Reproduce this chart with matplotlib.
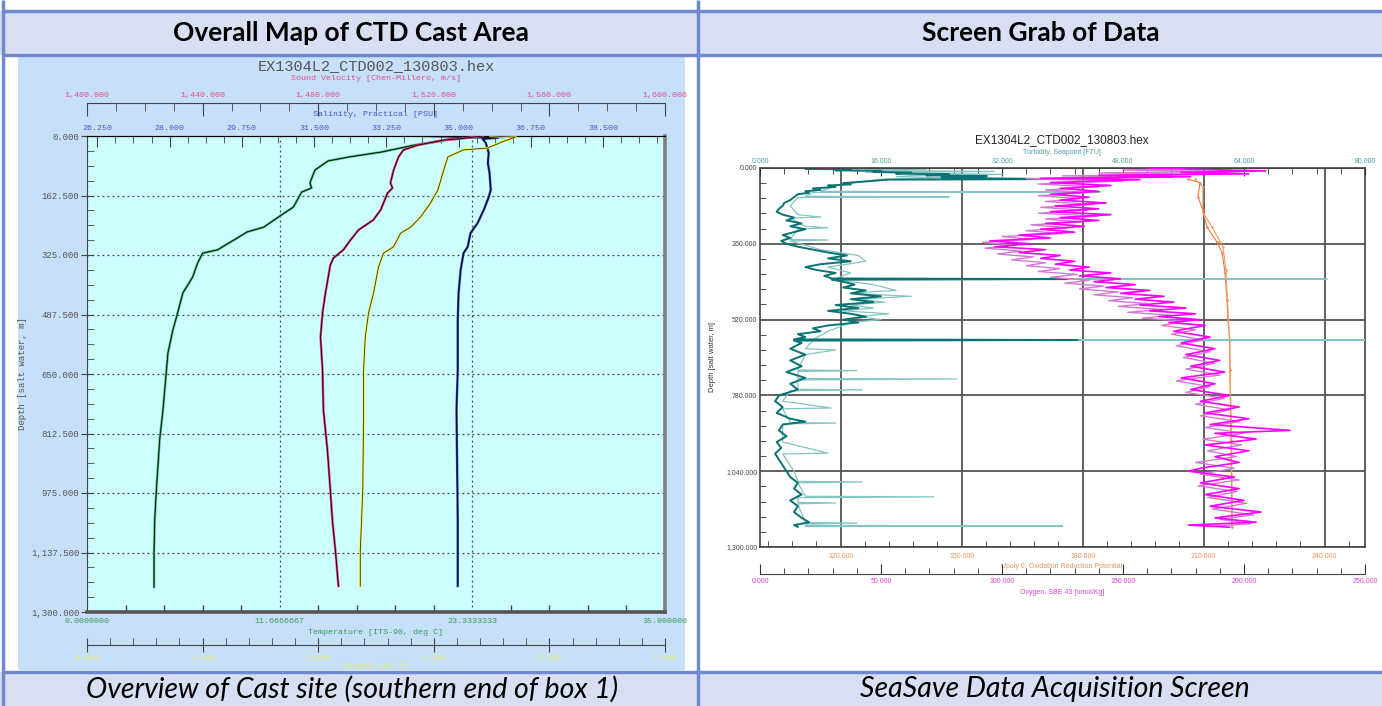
import matplotlib
matplotlib.use("Agg")
import matplotlib.pyplot as plt
from matplotlib.patches import Rectangle
from matplotlib.ticker import MultipleLocator, FixedLocator, FuncFormatter

plt.rcParams["font.family"] = "Liberation Sans"

W, H = 1382, 706
PT = 0.72  # points per pixel at 100 dpi

# ---------------- left panel data (EX1304L2_CTD002, Seaplot view) -------------
temp_depth = [3, 5, 14, 25, 44, 57, 68, 93, 128, 142, 153, 194, 221, 249, 262, 284, 311,
              320, 347, 385, 429, 481, 530, 593, 748, 830, 967, 1049, 1136, 1232]
temp_vals = [25.3, 22.4, 21.4, 19.8, 17.8, 15.9, 14.6, 13.8, 13.5, 13.6, 13.0, 12.5, 11.6,
             10.7, 9.7, 8.9, 7.9, 7.0, 6.7, 6.4, 5.8, 5.5, 5.2, 4.9, 4.6, 4.4, 4.2, 4.1,
             4.06, 4.06]

sv_depth = [0, 8, 11, 25, 38, 57, 93, 128, 142, 156, 202, 229, 257, 284, 311, 333, 352,
            429, 483, 549, 639, 748, 858, 967, 1049, 1136, 1229]
sv_vals = [1536.9, 1528.6, 1523.4, 1514.4, 1509.5, 1507.8, 1506.1, 1505.0, 1505.7, 1504.0,
           1501.6, 1499.1, 1493.9, 1491.2, 1488.7, 1485.3, 1484.2, 1482.5, 1481.5, 1480.8,
           1481.5, 1481.8, 1483.2, 1484.2, 1484.9, 1486.0, 1487.0]

sal_depth = [0, 3, 5, 8, 19, 46, 74, 101, 147, 167, 202, 238, 265, 303, 320, 366, 429, 503,
             639, 748, 1049, 1229]
sal_vals = [34.2, 35.29, 35.95, 35.58, 35.66, 35.73, 35.71, 35.75, 35.78, 35.73, 35.61,
            35.46, 35.29, 35.22, 35.12, 35.05, 35.00, 34.98, 34.98, 34.95, 34.98, 34.98]

oxl_depth = [0, 3, 14, 33, 38, 57, 93, 147, 183, 221, 249, 265, 303, 320, 358, 429, 483,
             549, 639, 748, 967, 1131, 1229]
oxl_vals = [4.89, 5.19, 5.05, 4.85, 4.56, 4.37, 4.32, 4.25, 4.16, 4.04, 3.92, 3.80, 3.71,
            3.59, 3.53, 3.47, 3.41, 3.37, 3.35, 3.35, 3.34, 3.31, 3.31]

sal_ticks = [26.25, 28.0, 29.75, 31.5, 33.25, 35.0, 36.75, 38.5]
temp_ticks = [0, 35 / 3, 70 / 3, 35]
temp_labels = ["0.0000000", "11.6666667", "23.3333333", "35.000000"]

# ---------------- right panel data (Seasave screen) ---------------------------
turb_depth = [0, 3, 5, 8, 10, 13, 16, 19, 22, 25, 28, 32, 35, 38, 40, 44, 48, 52, 56, 60,
              65, 70, 75, 80, 85, 90, 100, 110, 120, 130, 140, 150, 160, 170, 180, 190,
              200, 210, 220, 230, 240, 250, 260, 270, 280, 290, 300, 310, 320, 330, 340,
              350, 360, 370, 379, 381, 383, 390, 400, 410, 420, 430, 440, 450, 460, 470,
              480, 490, 500, 510, 520, 530, 540, 550, 560, 570, 580, 588, 590, 592, 600,
              620, 640, 660, 680, 700, 720, 740, 760, 780, 800, 820, 840, 860, 870, 880,
              900, 920, 940, 960, 980, 1000, 1020, 1040, 1060, 1080, 1100, 1120, 1140,
              1160, 1180, 1200, 1215, 1225, 1231]
turb_vals = [7.7, 6.0, 12, 10, 16, 15, 20, 18, 25, 22, 30, 24, 28, 39, 17, 15, 13, 11, 12,
             9, 10, 7, 8, 6, 6.5, 5, 4.5, 4, 3.2, 3, 2.5, 2.2, 3, 4.5, 3.5, 5.5, 4, 6, 4.5,
             3, 4, 2.8, 3.5, 5, 7, 9, 11.5, 9, 12, 8, 6, 7.5, 10, 8.5, 9.5, 40.6, 9.5, 11,
             12.5, 11, 14, 12, 16, 12, 15, 10, 13, 9, 12, 14, 11, 13, 9, 7, 8, 5, 6, 4.5,
             42, 4.5, 5.5, 4, 6, 4, 5.5, 3.5, 6, 4, 5, 2.5, 2, 3, 2.2, 4, 6, 3, 2.5, 3.5,
             2.2, 2.8, 2, 2.5, 3, 3.5, 4, 5, 4.5, 5.5, 4, 5, 4.5, 5.5, 6.5, 4.5, 5]

turb2_depth = [0, 4, 8, 12, 15, 22, 26, 30, 34, 38, 45, 60, 80, 82, 84, 97, 99, 101, 130,
               160, 168, 172, 200, 205, 210, 245, 247, 250, 280, 300, 320, 340, 360, 379,
               381, 383, 400, 420, 425, 430, 440, 450, 460, 470, 480, 490, 500, 510, 520,
               530, 560, 588, 590, 592, 620, 624, 640, 693, 695, 698, 722, 724, 727, 759,
               761, 764, 800, 823, 826, 873, 875, 878, 940, 978, 981, 1040, 1075, 1077,
               1080, 1126, 1128, 1131, 1147, 1149, 1152, 1216, 1218, 1221, 1226, 1228, 1230]
turb2_vals = [9, 22, 12, 31, 14, 32, 20, 18, 26, 16, 14, 10, 8, 45, 7, 6, 25, 5, 4, 5, 8,
              4, 6, 9, 5, 4, 9, 4, 8, 13, 14, 9, 12, 10, 75, 10, 15, 18, 14.5, 12, 20, 13,
              16.5, 12, 15, 11, 17, 13, 16, 12, 9, 7, 80, 7, 6, 10, 6, 5, 12.8, 5, 5, 26,
              5, 5, 13.5, 4, 3, 9.4, 3, 4, 10, 3, 3, 9, 3, 4.5, 5, 13.5, 5, 6, 23, 5, 5, 10,
              5, 6, 12.8, 6, 6, 40, 6]

orp_a_depth = [38, 51, 99, 144, 202, 254, 292, 360, 453, 521, 590, 693, 933, 1231]
orp_a_vals = [206.1, 209.1, 208.6, 209.8, 210.8, 213.3, 214.6, 215.3, 215.8, 216.0, 216.5,
              216.5, 216.8, 217.0]
orp_b_depth = [38, 65, 154, 202, 254, 271, 350, 453, 590, 933, 1231]
orp_b_vals = [207.9, 209.8, 209.8, 212.1, 214.1, 214.8, 215.5, 215.9, 216.4, 216.9, 217.1]

o2_depth = [0, 5, 10, 15, 20, 25, 30, 35, 40, 50, 60, 70, 80, 90, 100, 110, 120, 130, 140,
            150, 160, 170, 180, 190, 200, 210, 220, 230, 240, 250, 260, 270, 280, 290, 300,
            310, 320, 330, 340, 350, 360, 370, 380, 390, 400, 410, 420, 430, 440, 450, 460,
            470, 480, 490, 500, 510, 520, 530, 540, 560, 580, 600, 620, 640, 660, 680, 700,
            720, 740, 760, 780, 800, 820, 840, 860, 880, 900, 910, 930, 950, 970, 990, 1010,
            1030, 1040, 1060, 1080, 1100, 1120, 1140, 1160, 1180, 1200, 1215, 1225, 1232]
o2_vals = [161, 182, 209, 174, 202, 140, 178, 116, 157, 120, 145, 124, 140, 120, 136, 124,
           143, 122, 140, 120, 145, 124, 140, 118, 134, 116, 130, 107, 120, 95, 112, 97, 118,
           107, 124, 116, 130, 122, 136, 128, 145, 132, 149, 138, 155, 143, 161, 149, 167,
           155, 171, 157, 176, 161, 180, 165, 182, 169, 184, 171, 186, 174, 188, 176, 190,
           178, 192, 174, 188, 178, 194, 182, 198, 184, 202, 186, 219, 188, 205, 184, 202,
           188, 198, 182, 177, 196, 182, 198, 184, 200, 186, 207, 188, 205, 177, 194]

o2b_depth = [2, 7, 12, 17, 22, 27, 32, 37, 45, 55, 65, 75, 85, 95, 105, 115, 125, 135, 145,
             155, 165, 175, 185, 195, 205, 215, 225, 235, 245, 255, 265, 275, 285, 295, 305,
             315, 325, 335, 345, 355, 365, 375, 385, 395, 405, 415, 425, 435, 445, 455, 465,
             475, 485, 495, 505, 515, 525, 540, 555, 570, 590, 610, 630, 650, 670, 690, 710,
             730, 750, 770, 790, 810, 830, 850, 870, 890, 910, 930, 950, 970, 990, 1010,
             1030, 1050, 1070, 1090, 1110, 1130, 1150, 1170, 1190, 1205, 1220, 1230]
o2b_vals = [175, 150, 195, 140, 185, 125, 170, 110, 150, 115, 140, 118, 135, 115, 132, 118,
            138, 116, 135, 115, 140, 118, 133, 112, 128, 110, 125, 100, 112, 92, 104, 93, 108,
            98, 113, 104, 118, 110, 124, 115, 131, 120, 136, 126, 142, 132, 148, 138, 154,
            144, 160, 148, 166, 152, 170, 158, 176, 166, 180, 170, 183, 172, 186, 175, 188,
            176, 190, 172, 186, 176, 192, 180, 194, 182, 198, 184, 200, 183, 199, 185, 197,
            180, 196, 182, 198, 181, 197, 185, 201, 187, 204, 190, 203, 185]


def px_box(x0, y0, x1, y1):
    return [x0 / W, 1 - y1 / H, (x1 - x0) / W, (y1 - y0) / H]


def comma3(v, pos):
    return f"{v:,.3f}"


fig = plt.figure(figsize=(W / 100, H / 100), dpi=100)

# ---------------- table background ----------------
bg = fig.add_axes([0, 0, 1, 1])
bg.set_xlim(0, W)
bg.set_ylim(H, 0)
bg.axis("off")

border = "#6f89cf"
fill = "#d9dff2"
bg.add_patch(Rectangle((0, 11), W, 44, facecolor=fill, edgecolor="none"))
bg.add_patch(Rectangle((0, 672), W, 40, facecolor=fill, edgecolor="none"))
bg.add_patch(Rectangle((18, 57), 667, 613, facecolor="#c6e0fa", edgecolor="none"))
for yy in [11, 55, 672]:
    bg.plot([3, W], [yy, yy], color=border, lw=2.5, solid_capstyle="butt")
for xx in [3, 698]:
    bg.plot([xx, xx], [0, H], color=border, lw=2.5, solid_capstyle="butt")

bg.text(351, 33, "Overall Map of CTD Cast Area", ha="center", va="center", weight="bold",
        family="Lato", fontsize=19, color="black")
bg.text(1041, 33, "Screen Grab of Data", ha="center", va="center", weight="bold",
        family="Lato", fontsize=19, color="black")
bg.text(352, 689, "Overview of Cast site (southern end of box 1)", ha="center", va="center",
        style="italic", family="Lato", fontsize=20.5, color="black")
bg.text(1055, 689, "SeaSave Data Acquisition Screen", ha="center", va="center",
        style="italic", family="Lato", fontsize=20.5, color="black")

# ---------------- left plot ----------------
mono = "Liberation Mono"
bg.text(376, 66, "EX1304L2_CTD002_130803.hex", ha="center", va="center", family=mono,
        fontsize=11, color="#555555")
bg.text(376, 79, "Sound Velocity [Chen-Millero, m/s]", ha="center", va="center", family=mono,
        fontsize=6, color="#e0508a")
bg.text(376, 115, "Salinity, Practical [PSU]", ha="center", va="center", family=mono,
        fontsize=6, color="#4a58c8")
bg.text(376, 633, "Temperature [ITS-90, deg C]", ha="center", va="center", family=mono,
        fontsize=6, color="#3a9a5a")
bg.text(376, 666, "Oxygen [ml/l]", ha="center", va="center", family=mono,
        fontsize=6, color="#e8e860")
bg.text(23, 374, "Depth [salt water, m]", ha="center", va="center", rotation=90,
        family=mono, fontsize=6.5, color="#555555")

axL = fig.add_axes(px_box(87, 136, 665, 612))
axL.set_facecolor("#cdfefe")
axL.set_xlim(0, 35)
axL.set_ylim(1300, 0)
axL.xaxis.set_major_locator(FixedLocator(temp_ticks))
axL.xaxis.set_major_formatter(FuncFormatter(lambda v, p: temp_labels[p]))
axL.xaxis.set_minor_locator(MultipleLocator(35 / 15))
axL.yaxis.set_major_locator(MultipleLocator(162.5))
axL.yaxis.set_minor_locator(MultipleLocator(40.625))
axL.yaxis.set_major_formatter(FuncFormatter(comma3))
axL.tick_params(axis="x", which="both", direction="in", color="#444444", labelsize=6,
                labelcolor="#3a9a5a", labelfontfamily=mono, pad=4, top=False)
axL.tick_params(axis="x", which="major", length=0)
axL.tick_params(axis="x", which="minor", length=5, width=1)
axL.tick_params(axis="y", which="major", direction="inout", length=9, color="#444444",
                labelsize=6.5, labelcolor="#555555", labelfontfamily=mono, pad=1, right=False)
axL.tick_params(axis="y", which="minor", direction="in", length=5, color="#444444", right=False)
axL.grid(which="major", ls=(0, (1.5, 2.5)), color="#444444", lw=0.9)
axL.spines["bottom"].set_color("#555555")
axL.spines["bottom"].set_linewidth(2.6)
axL.spines["right"].set_color("#808080")
axL.spines["right"].set_linewidth(2.6)
axL.spines["top"].set_color("#444444")
axL.spines["left"].set_color("#444444")

axL.plot(temp_vals, temp_depth, color="#3cb371", lw=1.7)
axL.plot(temp_vals, temp_depth, color="black", lw=0.6)

axS = axL.twiny()
axS.set_xlim(26, 40)
axS.xaxis.set_major_locator(FixedLocator(sal_ticks))
axS.xaxis.set_minor_locator(MultipleLocator(0.4375))
axS.xaxis.set_major_formatter(FuncFormatter(lambda v, p: f"{v:.3f}"))
axS.tick_params(axis="x", which="both", direction="in", color="#444444", labelsize=6,
                labelcolor="#4a58c8", labelfontfamily=mono, pad=3)
axS.tick_params(axis="x", which="major", length=8)
axS.tick_params(axis="x", which="minor", length=5)
for s in ["bottom", "left", "right"]:
    axS.spines[s].set_visible(False)
axS.plot(sal_vals, sal_depth, color="#2a3cb0", lw=1.7)
axS.plot(sal_vals, sal_depth, color="black", lw=0.6)

axSV = axL.twiny()
axSV.set_xlim(1400, 1600)
axSV.spines["top"].set_position(("outward", 33 * PT))
axSV.spines["top"].set_color("#444444")
for s in ["bottom", "left", "right"]:
    axSV.spines[s].set_visible(False)
axSV.xaxis.set_major_locator(MultipleLocator(40))
axSV.xaxis.set_minor_locator(MultipleLocator(10))
axSV.xaxis.set_major_formatter(FuncFormatter(comma3))
axSV.tick_params(axis="x", which="both", direction="in", color="#444444", labelsize=6,
                 labelcolor="#e0508a", labelfontfamily=mono, pad=3)
axSV.tick_params(axis="x", which="major", length=9)
axSV.tick_params(axis="x", which="minor", length=6)
axSV.plot(sv_vals, sv_depth, color="#e0407a", lw=1.7)
axSV.plot(sv_vals, sv_depth, color="black", lw=0.6)

axOx = axL.twiny()
axOx.set_xlim(0, 7)
axOx.xaxis.set_ticks_position("bottom")
axOx.spines["bottom"].set_position(("outward", 33 * PT))
axOx.spines["bottom"].set_color("#444444")
for s in ["top", "left", "right"]:
    axOx.spines[s].set_visible(False)
axOx.xaxis.set_major_locator(MultipleLocator(1.4))
axOx.xaxis.set_minor_locator(MultipleLocator(0.28))
axOx.xaxis.set_major_formatter(FuncFormatter(lambda v, p: f"{v:.3f}"))
axOx.tick_params(axis="x", which="major", direction="inout", length=10, color="#444444",
                 labelsize=6, labelcolor="#eeee70", labelfontfamily=mono, pad=2)
axOx.tick_params(axis="x", which="minor", direction="in", length=5, color="#444444")
axOx.plot(oxl_vals, oxl_depth, color="#f0f040", lw=1.7)
axOx.plot(oxl_vals, oxl_depth, color="#333333", lw=0.6)

# ---------------- right plot ----------------
bg.text(1062, 140, "EX1304L2_CTD002_130803.hex", ha="center", va="center", fontsize=8.5,
        color="#222222")
bg.text(1062, 152, "Turbidity, Seapoint [FTU]", ha="center", va="center", fontsize=5,
        color="#4aa0a0")
bg.text(1062, 566, "Upoly 0, Oxidation Reduction Potential", ha="center", va="center",
        fontsize=5, color="#e8955a")
bg.text(1062, 593, "Oxygen, SBE 43 [umol/Kg]", ha="center", va="center", fontsize=5,
        color="#e040e0")
bg.text(713, 357, "Depth [salt water, m]", ha="center", va="center", rotation=90,
        fontsize=5.5, color="#333333")

axR = fig.add_axes(px_box(760, 168, 1365, 547))
axR.set_facecolor("white")
axR.set_xlim(100, 250)
axR.set_ylim(1300, 0)
axR.xaxis.set_major_locator(FixedLocator([120, 150, 180, 210, 240]))
axR.xaxis.set_minor_locator(MultipleLocator(6))
axR.xaxis.set_major_formatter(FuncFormatter(lambda v, p: f"{v:.3f}"))
axR.yaxis.set_major_locator(MultipleLocator(260))
axR.yaxis.set_minor_locator(MultipleLocator(52))
axR.yaxis.set_major_formatter(FuncFormatter(comma3))
axR.tick_params(axis="x", which="both", direction="in", color="#333333", labelsize=5,
                labelcolor="#e8955a", pad=4, top=False)
axR.tick_params(axis="y", which="both", direction="in", color="#333333", labelsize=5,
                labelcolor="#444444", pad=2, right=False)
axR.tick_params(which="major", length=0)
axR.tick_params(which="minor", length=4)
axR.grid(which="major", color="#555555", lw=1.3)
for s in axR.spines.values():
    s.set_color("#444444")
    s.set_linewidth(1.2)
axR.plot(orp_a_vals, orp_a_depth, color="#f08040", lw=0.8, marker=".", ms=1.5)
axR.plot(orp_b_vals, orp_b_depth, color="#f39a60", lw=0.8, marker=".", ms=1.5)

axT = axR.twiny()
axT.set_xlim(0, 80)
for s in ["bottom", "left", "right"]:
    axT.spines[s].set_visible(False)
axT.spines["top"].set_color("#444444")
axT.xaxis.set_major_locator(MultipleLocator(16))
axT.xaxis.set_minor_locator(MultipleLocator(3.2))
axT.xaxis.set_major_formatter(FuncFormatter(lambda v, p: f"{v:.3f}"))
axT.tick_params(axis="x", which="both", direction="in", color="#333333", labelsize=5,
                labelcolor="#4aa0a0", pad=2)
axT.tick_params(axis="x", which="major", length=6)
axT.tick_params(axis="x", which="minor", length=4)
axT.plot(turb2_vals, turb2_depth, color="#86c4c4", lw=0.9)
axT.plot(turb_vals, turb_depth, color="#0a7373", lw=1.4)

axO2 = axR.twiny()
axO2.set_xlim(0, 250)
axO2.xaxis.set_ticks_position("bottom")
axO2.spines["bottom"].set_position(("outward", 27 * PT))
axO2.spines["bottom"].set_color("#444444")
for s in ["top", "left", "right"]:
    axO2.spines[s].set_visible(False)
axO2.xaxis.set_major_locator(MultipleLocator(50))
axO2.xaxis.set_minor_locator(MultipleLocator(10))
axO2.xaxis.set_major_formatter(FuncFormatter(lambda v, p: f"{v:.3f}"))
axO2.tick_params(axis="x", which="both", direction="in", color="#333333", labelsize=5,
                 labelcolor="#e040e0", pad=3)
axO2.tick_params(axis="x", which="major", length=7)
axO2.tick_params(axis="x", which="minor", length=4)
axO2.plot(o2b_vals, o2b_depth, color="#d27ad2", lw=1.0)
axO2.plot(o2_vals, o2_depth, color="#ff00ff", lw=1.2)

fig.savefig("out.png", dpi=100)
